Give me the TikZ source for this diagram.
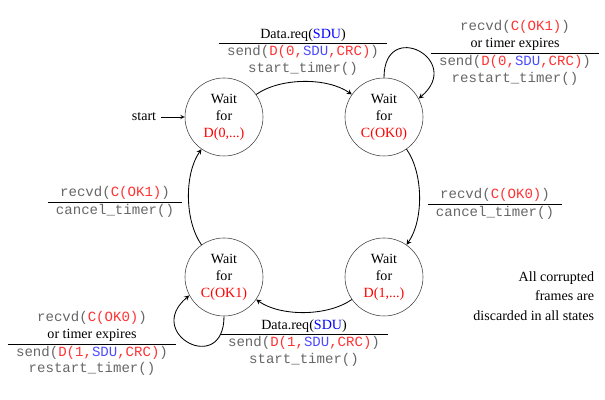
\documentclass[tikz,border=0pt]{standalone}
\usepackage{fontspec}
\setmainfont{Liberation Serif}
\setmonofont{Liberation Mono}
\definecolor{codegray}{gray}{0.4}
\newcommand{\code}[1]{{\ttfamily\color{codegray}#1}}
\newcommand{\rd}[1]{\textcolor{red}{#1}}
\newcommand{\bl}[1]{\textcolor{blue}{#1}}
\newcommand{\crd}[1]{\textcolor{red!80}{#1}}
\newcommand{\cbl}[1]{\textcolor{blue!70}{#1}}
\begin{document}
\begin{tikzpicture}[>=stealth, state/.style={circle, draw=black!75, minimum size=1.95cm, inner sep=0pt, align=center}, trans/.style={->, semithick}, arc/.style={bend left=35, looseness=0.8}]
\useasboundingbox (0,0) rectangle (15.125,10);
\node[state] (D0) at (5.6,7.075) {Wait\\for\\\rd{D(0,...)}};
\node[state] (C0) at (9.6,7.075) {Wait\\for\\\rd{C(OK0)}};
\node[state] (D1) at (9.6,3.075) {Wait\\for\\\rd{D(1,...)}};
\node[state] (C1) at (5.6,3.075) {Wait\\for\\\rd{C(OK1)}};
\node (start) at (3.6,7.075) {start};
\draw[->](start)--(D0);
\draw[trans](D0) to[arc] (C0);
\draw[trans](C0) to[arc] (D1);
\draw[trans](D1) to[arc] (C1);
\draw[trans](C1) to[arc] (D0);
\draw[trans](C0.90) .. controls +(90:1.5) and +(40:1.5) .. (C0.28);
\draw[trans](C1.-90) .. controls +(-90:1.5) and +(-140:1.5) .. (C1.-152);
\node (t1) at (7.575,8.7) {\begin{tabular}{c}Data.req(\bl{SDU})\\\hline \code{send(\crd{D(0,\cbl{SDU},CRC)})}\\\code{start\_timer()}\end{tabular}};
\node (t2) at (12.875,8.67) {\begin{tabular}{c}\code{recvd(\crd{C(OK1)})}\\or timer expires\\\hline \code{send(\crd{D(0,\cbl{SDU},CRC)})}\\\code{restart\_timer()}\end{tabular}};
\node (t3) at (12.375,4.9) {\begin{tabular}{c}\code{recvd(\crd{C(OK0)})}\\\hline \code{cancel\_timer()}\end{tabular}};
\node (t4) at (7.6,1.425) {\begin{tabular}{c}Data.req(\bl{SDU})\\\hline \code{send(\crd{D(1,\cbl{SDU},CRC)})}\\\code{start\_timer()}\end{tabular}};
\node (t5) at (2.3,1.4) {\begin{tabular}{c}\code{recvd(\crd{C(OK0)})}\\or timer expires\\\hline \code{send(\crd{D(1,\cbl{SDU},CRC)})}\\\code{restart\_timer()}\end{tabular}};
\node (t6) at (2.875,4.95) {\begin{tabular}{c}\code{recvd(\crd{C(OK1)})}\\\hline \code{cancel\_timer()}\end{tabular}};
\node[align=right, anchor=east] (note) at (14.975,2.6) {All corrupted\\[2pt]frames are\\[2pt]discarded in all states};
\end{tikzpicture}
\end{document}
